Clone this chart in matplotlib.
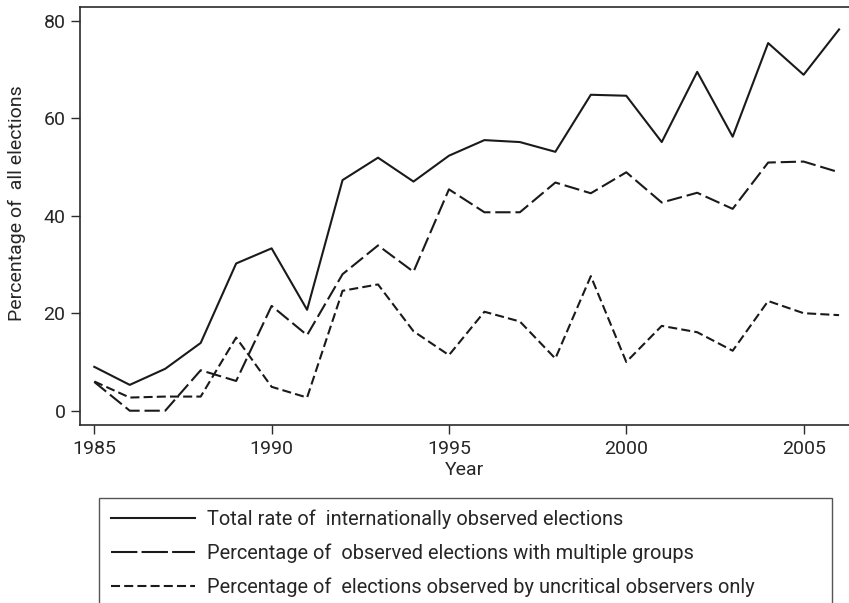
"""
Observed elections, 1985-2006: three series drawn as black lines.
"""

import matplotlib

matplotlib.use("Agg")
import matplotlib.pyplot as plt


# ==================== data ====================
YEARS = list(range(1985, 2007))

TOTAL_OBSERVED = [
    9.0, 5.3, 8.6, 13.9, 30.2, 33.3, 20.7, 47.3, 51.9, 47.0, 52.3,
    55.5, 55.1, 53.1, 64.8, 64.6, 55.1, 69.5, 56.2, 75.4, 68.9, 78.2,
]
MULTIPLE_GROUPS = [
    5.9, 0.0, 0.0, 8.3, 6.1, 21.5, 15.5, 28.0, 33.9, 28.5, 45.4,
    40.7, 40.7, 46.8, 44.6, 48.9, 42.7, 44.7, 41.4, 50.9, 51.1, 48.9,
]
UNCRITICAL_ONLY = [
    6.0, 2.7, 2.9, 2.9, 15.0, 4.9, 2.7, 24.6, 25.9, 16.3, 11.4,
    20.3, 18.3, 10.7, 27.6, 10.0, 17.4, 16.1, 12.3, 22.5, 20.0, 19.6,
]

SERIES_LABELS = [
    "Total rate of  internationally observed elections",
    "Percentage of  observed elections with multiple groups",
    "Percentage of  elections observed by uncritical observers only",
]

X_TICKS = [1985, 1990, 1995, 2000, 2005]
Y_TICKS = [0, 20, 40, 60, 80]

TEXT_COLOR = "#262626"
SPINE_COLOR = "#2b2b2b"
LINE_COLOR = "#1a1a1a"
FONT_SIZE = 14
LEGEND_FONT_SIZE = 14.4


def configure_matplotlib() -> None:
    plt.rcParams["font.family"] = ["Roboto", "DejaVu Sans"]
    plt.rcParams["lines.scale_dashes"] = False
    plt.rcParams["text.color"] = TEXT_COLOR
    plt.rcParams["axes.labelcolor"] = TEXT_COLOR
    plt.rcParams["xtick.color"] = SPINE_COLOR
    plt.rcParams["ytick.color"] = SPINE_COLOR
    plt.rcParams["xtick.labelcolor"] = TEXT_COLOR
    plt.rcParams["ytick.labelcolor"] = TEXT_COLOR


def main() -> None:
    configure_matplotlib()

    fig = plt.figure(figsize=(8.49, 6.03), dpi=100)
    ax = fig.add_axes([80 / 849, 1 - 425 / 603, 1 - 80 / 849, (425 - 7) / 603])

    styles = ["-", (0, (11, 3.5)), (0, (6.5, 3))]
    for values, label, style in zip(
        [TOTAL_OBSERVED, MULTIPLE_GROUPS, UNCRITICAL_ONLY], SERIES_LABELS, styles
    ):
        ax.plot(YEARS, values, color=LINE_COLOR, linewidth=1.5, linestyle=style, label=label)

    ax.set_xlim(1984.597, 2006.28)
    ax.set_ylim(-2.93, 82.8)
    ax.set_xticks(X_TICKS)
    ax.set_yticks(Y_TICKS)
    ax.tick_params(axis="both", labelsize=FONT_SIZE, length=6.5, width=1.0, pad=4)

    for side in ["left", "top", "bottom"]:
        ax.spines[side].set_color(SPINE_COLOR)
        ax.spines[side].set_linewidth(1.2)
    ax.spines["right"].set_visible(False)

    ax.set_xlabel("Year", fontsize=FONT_SIZE)
    ax.xaxis.set_label_coords(0.5, -0.085)
    ax.set_ylabel("Percentage of  all elections", fontsize=FONT_SIZE)
    ax.yaxis.set_label_coords(-0.07, 0.53)

    legend_top = 1 - 498 / 603
    legend = fig.legend(
        loc="upper left",
        bbox_to_anchor=(99 / 849, legend_top - 0.3, (832 - 99) / 849, 0.3),
        mode="expand",
        fontsize=LEGEND_FONT_SIZE,
        frameon=True,
        fancybox=False,
        handlelength=4.2,
        handletextpad=0.6,
        labelspacing=0.72,
        borderpad=0.58,
        borderaxespad=0.0,
    )
    # legend keys use a longer dash than the plotted line
    legend.get_lines()[1].set_linestyle((0, (19, 3)))
    frame = legend.get_frame()
    frame.set_edgecolor(SPINE_COLOR)
    frame.set_linewidth(1.0)

    fig.savefig("out.png", dpi=100)


if __name__ == "__main__":
    main()
